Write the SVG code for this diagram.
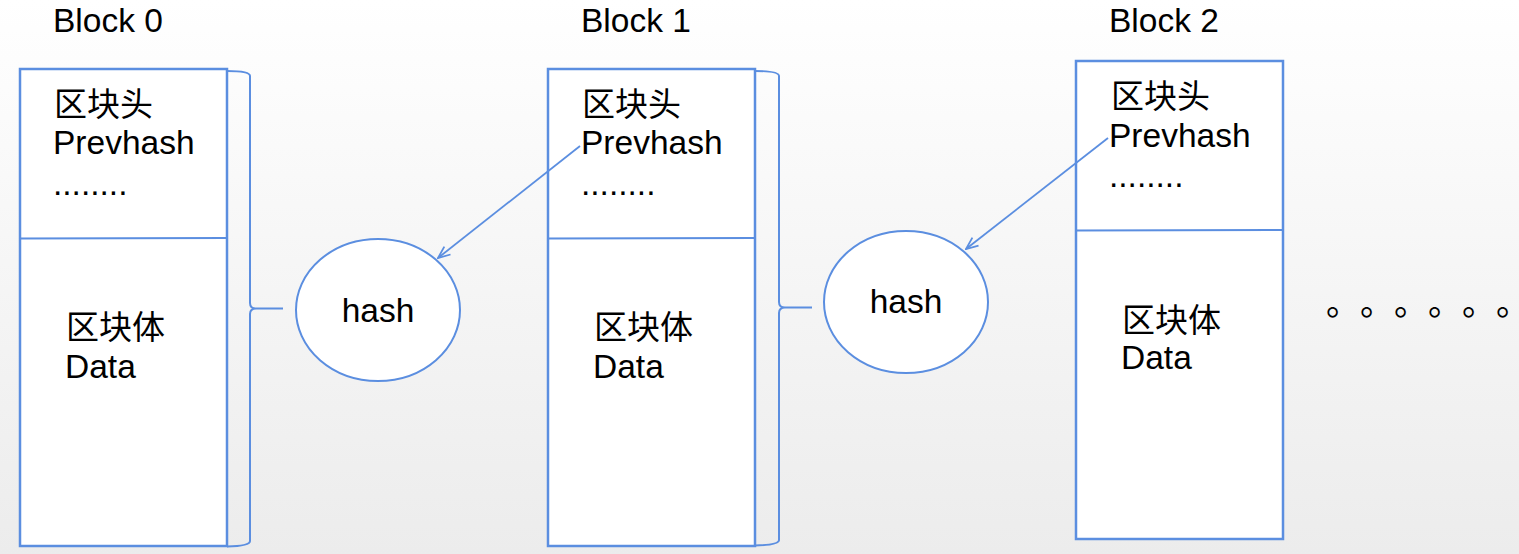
<svg xmlns="http://www.w3.org/2000/svg" width="1519" height="554" viewBox="0 0 1519 554">
<defs>
<linearGradient id="bg" x1="0" y1="0" x2="0" y2="1">
<stop offset="0" stop-color="#ffffff"/>
<stop offset="1" stop-color="#ececec"/>
</linearGradient>
<marker id="arr" viewBox="0 0 14 12" refX="13" refY="6" markerWidth="14" markerHeight="12" markerUnits="userSpaceOnUse" orient="auto">
<path d="M1,1 L13,6 L1,11" fill="none" stroke="#5b8ee0" stroke-width="1.8"/>
</marker>
<style>
.box{fill:#ffffff;stroke:#5b8ee0;stroke-width:2.5}
.div{stroke:#5b8ee0;stroke-width:2;fill:none}
.brace{fill:none;stroke:#5b8ee0;stroke-width:2}
.ell{fill:#ffffff;stroke:#5b8ee0;stroke-width:2}
.conn{fill:none;stroke:#5b8ee0;stroke-width:1.8}
.t{font-family:"Liberation Sans","Noto Sans CJK SC",sans-serif;font-size:33.5px;fill:#000000}
.c{font-family:"Liberation Sans","Noto Sans CJK SC",sans-serif;font-size:33px;fill:#000000}
.h{font-family:"Liberation Sans",sans-serif;font-size:33.5px;fill:#000000;text-anchor:middle}
.o{font-family:"Noto Sans CJK SC",sans-serif;font-size:34px;fill:#000000;font-feature-settings:"halt"}
</style>
</defs>
<rect x="0" y="0" width="1519" height="554" fill="url(#bg)"/>

<g id="block0">
<text class="t" x="53" y="32">Block 0</text>
<rect class="box" x="20" y="69" width="207" height="477"/>
<line class="div" x1="20" y1="238.5" x2="227" y2="238"/>
<text class="c" x="54" y="116">区块头</text>
<text class="t" x="53" y="154">Prevhash</text>
<text class="t" x="53" y="195">........</text>
<text class="c" x="66" y="339">区块体</text>
<text class="t" x="65" y="378">Data</text>
<path class="brace" d="M227,71 Q250,71 250,76 L250,303 Q250,308.5 256,308.5 L283,308.5 M256,308.5 Q250,308.5 250,314 L250,541 Q250,546 227,546.5"/>
</g>

<g id="hash0">
<ellipse class="ell" cx="378" cy="310" rx="82" ry="71"/>
<text class="h" x="378" y="322">hash</text>
</g>

<g id="block1">
<text class="t" x="581" y="32">Block 1</text>
<rect class="box" x="548" y="69" width="207" height="477"/>
<line class="div" x1="548" y1="238.5" x2="755" y2="238"/>
<text class="c" x="582" y="116">区块头</text>
<text class="t" x="581" y="154">Prevhash</text>
<text class="t" x="581" y="195">........</text>
<text class="c" x="594" y="339">区块体</text>
<text class="t" x="593" y="378">Data</text>
<path class="brace" d="M755,71 Q779,71 779,76 L779,302 Q779,307.5 785,307.5 L812,307.5 M785,307.5 Q779,307.5 779,313 L779,540 Q779,545 755,545.5"/>
</g>

<g id="hash1">
<ellipse class="ell" cx="906" cy="302" rx="82" ry="71"/>
<text class="h" x="906" y="313">hash</text>
</g>

<g id="block2">
<text class="t" x="1109" y="32">Block 2</text>
<rect class="box" x="1076" y="61" width="207" height="478"/>
<line class="div" x1="1076" y1="230.5" x2="1283" y2="230"/>
<text class="c" x="1111" y="108">区块头</text>
<text class="t" x="1109" y="147">Prevhash</text>
<text class="t" x="1109" y="187">........</text>
<text class="c" x="1122" y="332">区块体</text>
<text class="t" x="1121" y="369">Data</text>
</g>

<g id="ellipsis">
<text class="o" x="1326 1360 1394 1428 1462 1496" y="315">。。。。。。</text>
</g>

<g id="connectors">
<line class="conn" x1="580" y1="146" x2="438" y2="258" marker-end="url(#arr)"/>
<line class="conn" x1="1108" y1="138" x2="966" y2="249" marker-end="url(#arr)"/>
</g>
</svg>
